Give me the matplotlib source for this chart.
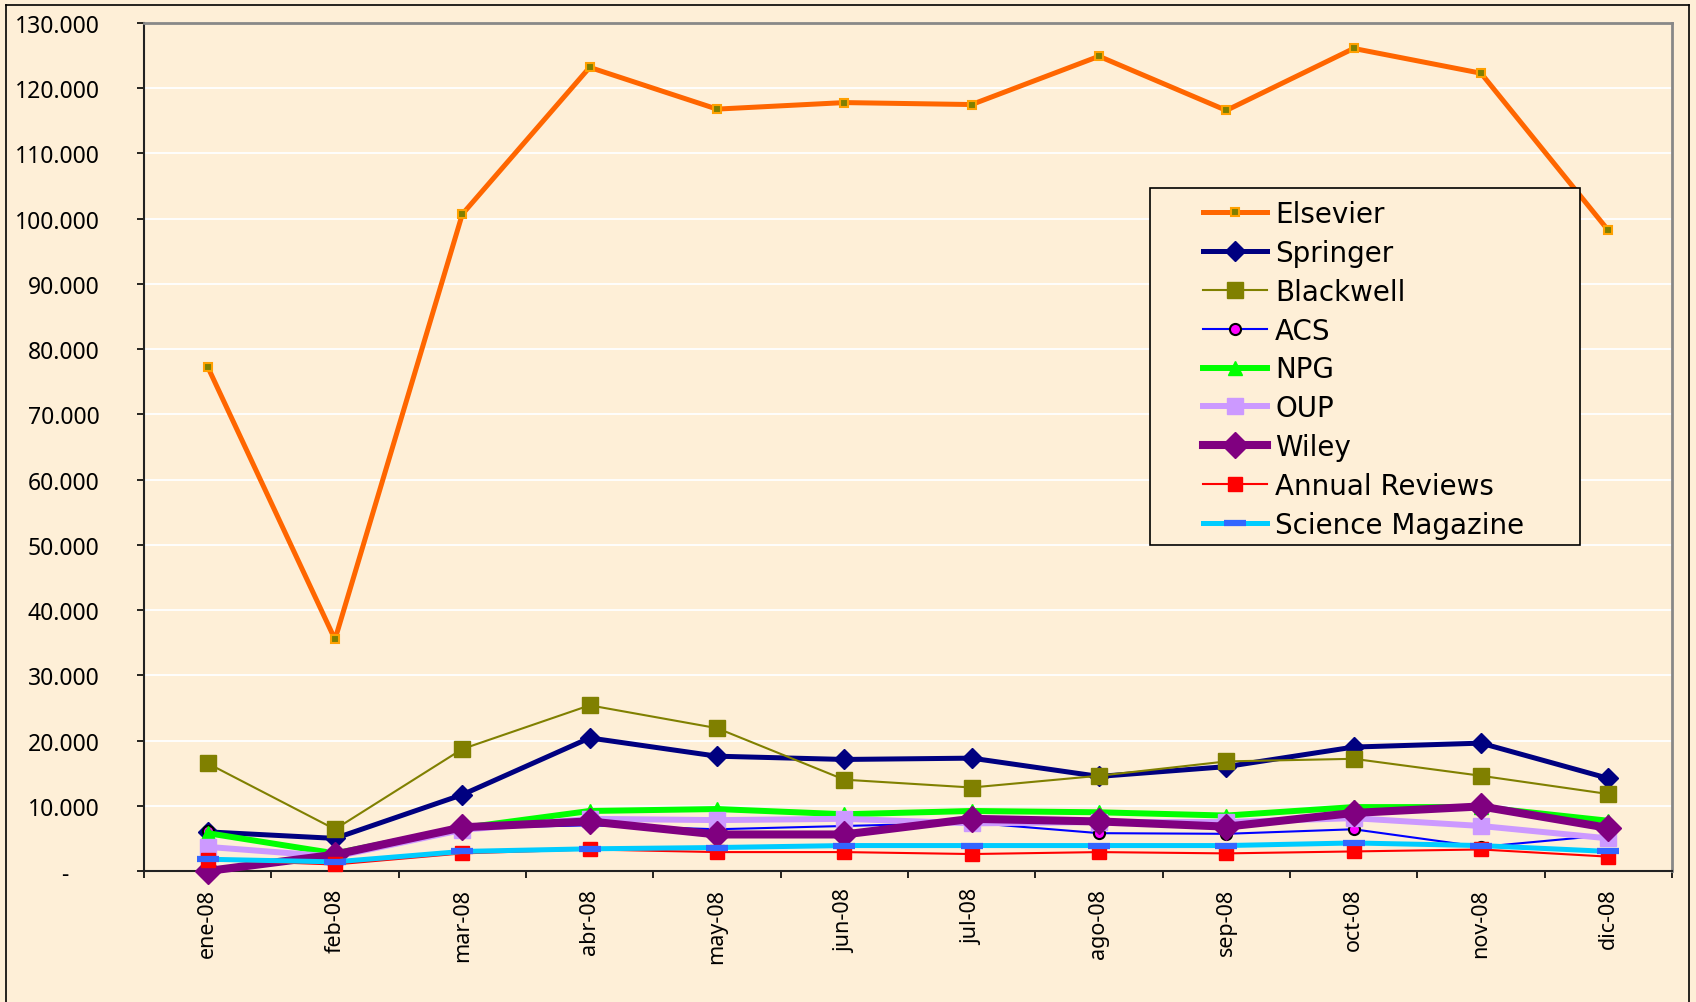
import matplotlib
matplotlib.use("Agg")
import matplotlib.pyplot as plt
from matplotlib.lines import Line2D
from matplotlib.patches import Rectangle
from matplotlib.ticker import FixedLocator, FuncFormatter

months = ["ene-08", "feb-08", "mar-08", "abr-08", "may-08", "jun-08",
          "jul-08", "ago-08", "sep-08", "oct-08", "nov-08", "dic-08"]

elsevier = [77300, 35500, 100700, 123200, 116800, 117800, 117500, 124900, 116600, 126100, 122300, 98200]
springer = [6000, 5000, 11700, 20400, 17600, 17100, 17300, 14500, 16000, 19000, 19600, 14200]
blackwell = [16500, 6400, 18700, 25400, 21900, 14000, 12800, 14600, 16800, 17200, 14600, 11800]
acs = [6100, 2400, 6600, 7000, 6400, 6900, 7400, 5800, 5700, 6400, 3700, 5500]
npg = [5800, 2700, 6600, 9200, 9500, 8700, 9200, 9000, 8500, 9800, 9800, 7700]
oup = [3700, 2200, 6300, 8000, 7800, 8000, 7300, 7500, 7500, 8100, 6900, 5000]
wiley = [0, 2500, 6700, 7600, 5600, 5600, 8000, 7600, 6800, 8900, 9900, 6600]
annual = [1700, 1000, 2700, 3300, 2900, 2900, 2600, 2900, 2700, 3000, 3300, 2200]
science = [1800, 1400, 3000, 3400, 3600, 3900, 3900, 3900, 3900, 4300, 3900, 3000]

yticks = list(range(0, 130001, 10000))

BG = "#FEEFD7"
W, H = 1696, 1003
fig = plt.figure(figsize=(W / 100, H / 100), dpi=100, facecolor=BG)
ax = fig.add_axes([144 / W, 1 - 872 / H, (1672 - 144) / W, (872 - 24) / H])
ax.set_facecolor(BG)

x = list(range(len(months)))
series = [
    ("Elsevier", elsevier, dict(color="#FF6600", lw=3.6, marker="s", ms=6, mfc="#7F7F00", mec="#FFA000", mew=1.5)),
    ("Springer", springer, dict(color="#000080", lw=3.6, marker="D", ms=10, mfc="#000080", mec="#000080")),
    ("Blackwell", blackwell, dict(color="#808000", lw=1.5, marker="s", ms=11, mfc="#808000", mec="#808000")),
    ("ACS", acs, dict(color="#0000FF", lw=1.5, marker="o", ms=8, mfc="#FF00FF", mec="#000000", mew=1.5)),
    ("NPG", npg, dict(color="#00FF00", lw=4.3, marker="^", ms=10, mfc="#00FF00", mec="#00FF00")),
    ("OUP", oup, dict(color="#CC99FF", lw=4.3, marker="s", ms=12, mfc="#CC99FF", mec="#CC99FF")),
    ("Wiley", wiley, dict(color="#800080", lw=5.8, marker="D", ms=13, mfc="#800080", mec="#800080")),
    ("Annual Reviews", annual, dict(color="#FF0000", lw=1.5, marker="s", ms=10, mfc="#FF0000", mec="#FF0000")),
    ("Science Magazine", science, dict(color="#00CCFF", lw=3.6, marker="_", ms=16, mec="#3366FF", mew=4.5)),
]
handles = []
for name, vals, st in series:
    ln, = ax.plot(x, vals, label=name, clip_on=False, zorder=3, **st)
    handles.append(ln)

ax.set_xlim(-0.5, len(months) - 0.5)
ax.set_ylim(0, 130000)
ax.yaxis.set_major_locator(FixedLocator(yticks))
ax.yaxis.set_major_formatter(FuncFormatter(
    lambda v, p: "-     " if v == 0 else f"{int(v):,}".replace(",", ".")))
ax.grid(axis="y", color="white", lw=1.3, zorder=0)
ax.set_axisbelow(True)

ax.set_xticks(x)
ax.set_xticklabels(months, rotation=90, fontsize=15.5, family="Noto Sans")
ax.set_xticks([i + 0.5 for i in range(-1, len(months))], minor=True)
ax.tick_params(axis="x", which="major", length=0, pad=12)
ax.tick_params(axis="x", which="minor", length=5, width=1.2, direction="out")
ax.tick_params(axis="y", length=5, width=1.2, pad=27, labelsize=16.5)
for lbl in ax.get_yticklabels():
    lbl.set_family("Noto Sans")

for s in ("left", "bottom"):
    ax.spines[s].set_color("#222222")
    ax.spines[s].set_linewidth(1.5)
for s in ("top", "right"):
    ax.spines[s].set_color("#888888")
    ax.spines[s].set_linewidth(2)

# legend frame drawn separately (wide horizontal padding as in the reference)
fig.add_artist(Rectangle((1150 / W, 1 - 546 / H), (1580 - 1150) / W, (546 - 189) / H,
                         transform=fig.transFigure, facecolor=BG, edgecolor="black",
                         lw=1.2, zorder=4))
leg = fig.legend(handles=handles, loc="upper left",
                 bbox_to_anchor=(1203 / W, 1 - 201 / H), bbox_transform=fig.transFigure,
                 prop=dict(family="DejaVu Sans", size=20), frameon=False,
                 handlelength=2.3, handletextpad=0.3, labelspacing=0.39,
                 borderpad=0, borderaxespad=0)
leg.set_zorder(5)

# outer frame of the slide chart
for xs, ys in [((6 / W, 6 / W), (0, 1 - 6 / H)),
               ((6 / W, 1689 / W), (1 - 6 / H, 1 - 6 / H)),
               ((1689 / W, 1689 / W), (1 - 6 / H, 0))]:
    fig.add_artist(Line2D(xs, ys, color="black", lw=1.2, transform=fig.transFigure))

fig.savefig("out.png", dpi=100, facecolor=BG)
